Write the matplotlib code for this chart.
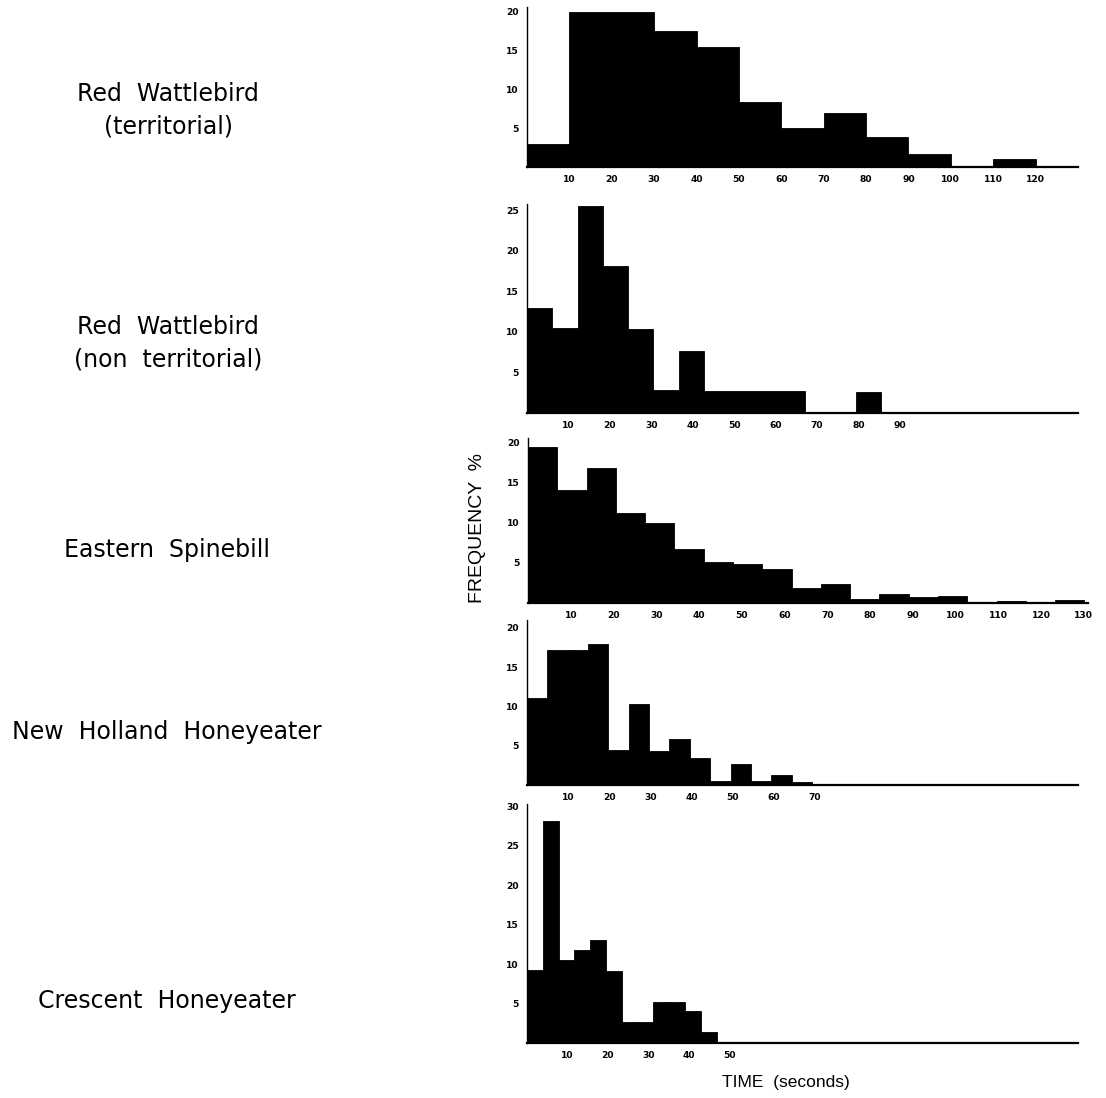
import numpy as np
import matplotlib.pyplot as plt

plt.rcParams["font.family"] = ["Liberation Sans", "DejaVu Sans"]

# frequency (%) per time bin
species = [
    "Red  Wattlebird\n(territorial)",
    "Red  Wattlebird\n(non  territorial)",
    "Eastern  Spinebill",
    "New  Holland  Honeyeater",
    "Crescent  Honeyeater",
]

bin_widths = [10, 6.1, 6.85, 4.95, 3.9]

freq_rw_terr = [3.0, 20.0, 20.0, 17.5, 15.4, 8.4, 5.0, 7.0, 3.9, 1.7, 0.0, 1.0, 0.0]
freq_rw_nonterr = [13.0, 10.5, 25.6, 18.1, 10.4, 2.8, 7.6, 2.7, 2.7, 2.7, 2.7,
                   0.0, 0.0, 2.6]
freq_spinebill = [19.5, 14.1, 16.8, 11.25, 10.0, 6.8, 5.1, 4.9, 4.3, 1.9, 2.4,
                  0.5, 1.1, 0.7, 0.9, 0.1, 0.3, 0.0, 0.4]
freq_new_holland = [11.1, 17.2, 17.2, 17.9, 4.4, 10.3, 4.3, 5.8, 3.5, 0.5, 2.7,
                    0.5, 1.3, 0.4]
freq_crescent = [9.2, 28.2, 10.5, 11.8, 13.1, 9.1, 2.7, 2.7, 5.2, 5.2, 4.1, 1.4]

freqs = [freq_rw_terr, freq_rw_nonterr, freq_spinebill, freq_new_holland,
         freq_crescent]

x_ticks = [list(range(10, 130, 10)), list(range(10, 100, 10)),
           list(range(10, 140, 10)), list(range(10, 80, 10)),
           list(range(10, 60, 10))]
y_ticks = [[5, 10, 15, 20], [5, 10, 15, 20, 25], [5, 10, 15, 20],
           [5, 10, 15, 20], [5, 10, 15, 20, 25, 30]]

# layout in pixels of the original page: left, right, baseline, top
W, H = 1106, 1098
boxes = [(527, 1078, 167, 7), (527, 1078, 413, 204), (528, 1088, 603, 438),
         (527, 1078, 785, 620), (527, 1078, 1043, 804)]
xmax = [130, 133, 131, 134, 136]
ymax = [20.6, 25.8, 20.6, 21.0, 30.3]
label_y = [110, 343, 550, 732, 1001]
label_x = [168, 168, 167, 167, 167]

fig = plt.figure(figsize=(W / 100, H / 100), dpi=100)

for i in range(5):
    l, r, b, t = boxes[i]
    ax = fig.add_axes([l / W, 1 - b / H, (r - l) / W, (b - t) / H])
    vals = np.array(freqs[i])
    w = bin_widths[i]
    edges = np.arange(len(vals)) * w
    ax.bar(edges, vals, width=w, align="edge", color="black", edgecolor="black",
           linewidth=0.6)
    ax.set_xlim(0, xmax[i])
    ax.set_ylim(0, ymax[i])
    ax.set_xticks(x_ticks[i])
    ax.set_yticks(y_ticks[i])
    ax.tick_params(length=0, labelsize=6.6, pad=6)
    for lab in ax.get_xticklabels() + ax.get_yticklabels():
        lab.set_fontweight("bold")
        lab.set_family("DejaVu Sans")
    for s in ["top", "right"]:
        ax.spines[s].set_visible(False)
    ax.spines["left"].set_linewidth(1.0)
    ax.spines["bottom"].set_linewidth(1.6)
    ax.patch.set_alpha(0)

    fig.text(label_x[i] / W, 1 - label_y[i] / H, species[i], ha="center",
             va="center", fontsize=17, linespacing=1.45,
             family=["DejaVu Sans"])

fig.text(477 / W, 1 - 528 / H, "FREQUENCY  %", rotation=90, ha="center",
         va="center", fontsize=14)
fig.text(786 / W, 1 - 1083 / H, "TIME  (seconds)", ha="center", va="center",
         fontsize=12.5)

fig.savefig("out.png", dpi=100, facecolor="white")
